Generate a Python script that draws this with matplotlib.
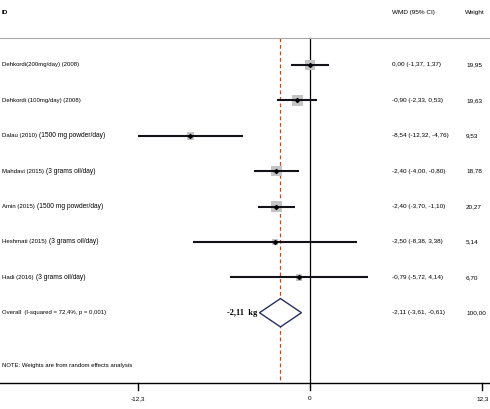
import matplotlib
matplotlib.use("Agg")
import matplotlib.pyplot as plt
import numpy as np
from matplotlib.transforms import blended_transform_factory

# ---- data ----
studies = ["Dehkordi(200mg/day) (2008)", "Dehkordi (100mg/day) (2008)", "Dalau (2010)",
           "Mahdavi (2015)", "Amin (2015)", "Heshmati (2015)", "Hadi (2016)"]
doses = ["", "", "(1500 mg powder/day)", "(3 grams oil/day)", "(1500 mg powder/day)",
         "(3 grams oil/day)", "(3 grams oil/day)"]
wmd = [0.00, -0.90, -8.54, -2.40, -2.40, -2.50, -0.79]
ci_low = [-1.37, -2.33, -12.32, -4.00, -3.70, -8.38, -5.72]
ci_high = [1.37, 0.53, -4.76, -0.80, -1.10, 3.38, 4.14]
weights = [19.95, 19.63, 9.53, 18.78, 20.27, 5.14, 6.70]
overall = -2.11
overall_low = -3.61
overall_high = -0.61
overall_label = "Overall  (I-squared = 72,4%, p = 0,001)"
overall_weight = "100,00"
effect_label = "-2,11  kg"
xticks = [-12.3, 0, 12.3]
xtick_labels = ["-12,3", "0", "12,3"]

def fmt(v):
    return f"{v:.2f}".replace(".", ",")

fig = plt.figure(figsize=(4.9, 4.09), dpi=100)
ax = fig.add_axes([0, 0, 1, 1])
ax.set_xlim(-310 / 14, 180 / 14)
ax.set_ylim(9.72, -1.836)
ax.axis("off")

sans = ["Liberation Sans", "DejaVu Sans"]
serif = ["Liberation Serif", "DejaVu Serif"]
fs_left = 4.3
fs = 4.6

tr = blended_transform_factory(ax.transAxes, ax.transData)

n = len(studies)
rows = np.arange(n)
y_overall = n
y_header = -1.47
y_sep = -0.76
y_note = 8.5
y_axis = 8.98

# header
ax.text(2 / 490, y_header, "ID", transform=tr, fontsize=fs, family=sans, va="center", fontweight="bold")
ax.text(392 / 490, y_header, "WMD (95% CI)", transform=tr, fontsize=fs, family=sans, va="center")
ax.text(465 / 490, y_header, "Weight", transform=tr, fontsize=fs, family=sans, va="center")
ax.axhline(y_sep, color="#a8a8a8", lw=0.8)

# reference lines
ax.plot([0, 0], [y_sep, y_axis], color="black", lw=0.9, zorder=1)
ax.plot([overall, overall], [y_sep, y_axis], color="#9c5a3c", lw=0.9,
        dashes=(3, 2.2), zorder=1)

# studies
for i in range(n):
    y = rows[i]
    ax.plot([ci_low[i], ci_high[i]], [y, y], color="#141218", lw=1.5, zorder=3,
            solid_capstyle="butt")
    ax.scatter([wmd[i]], [y], marker="s", s=3.1 * weights[i], color="#c4c4c4",
               edgecolor="none", zorder=2)
    ax.scatter([wmd[i]], [y], marker="D", s=4, color="black", zorder=4)
    t = ax.text(2 / 490, y, studies[i], transform=tr, fontsize=fs_left, family=sans, va="center")
    if doses[i]:
        ax.annotate(doses[i], xy=(1, 0.5), xycoords=t, xytext=(1.5, 0),
                    textcoords="offset points", va="center", ha="left",
                    fontsize=4.8, family=sans)
    ax.text(392 / 490, y, f"{fmt(wmd[i])} ({fmt(ci_low[i])}, {fmt(ci_high[i])})",
            transform=tr, fontsize=fs, family=sans, va="center")
    ax.text(466 / 490, y, fmt(weights[i]), transform=tr, fontsize=fs, family=sans, va="center")

# overall diamond
h = 0.4
ax.fill([overall_low, overall, overall_high, overall, overall_low],
        [y_overall, y_overall - h, y_overall, y_overall + h, y_overall],
        facecolor="white", edgecolor="#27305e", lw=1.0, zorder=3)
ax.text(overall_low - 0.15, y_overall, effect_label, fontsize=6, family=serif,
        fontweight="bold", ha="right", va="center")
ax.text(2 / 490, y_overall, overall_label, transform=tr, fontsize=fs_left, family=sans, va="center")
ax.text(392 / 490, y_overall, f"{fmt(overall)} ({fmt(overall_low)}, {fmt(overall_high)})",
        transform=tr, fontsize=fs, family=sans, va="center")
ax.text(466 / 490, y_overall, overall_weight, transform=tr, fontsize=fs, family=sans, va="center")

ax.text(2 / 490, y_note, "NOTE: Weights are from random effects analysis", transform=tr,
        fontsize=fs_left, family=sans, va="center")

# bottom axis
ax.axhline(y_axis, color="black", lw=1.0)
for tx, tl in zip(xticks, xtick_labels):
    ax.plot([tx, tx], [y_axis, y_axis + 0.2], color="black", lw=1.0)
    ax.text(tx, 9.43, tl, fontsize=fs, family=sans, ha="center", va="center")

fig.savefig("out.png", dpi=100)
